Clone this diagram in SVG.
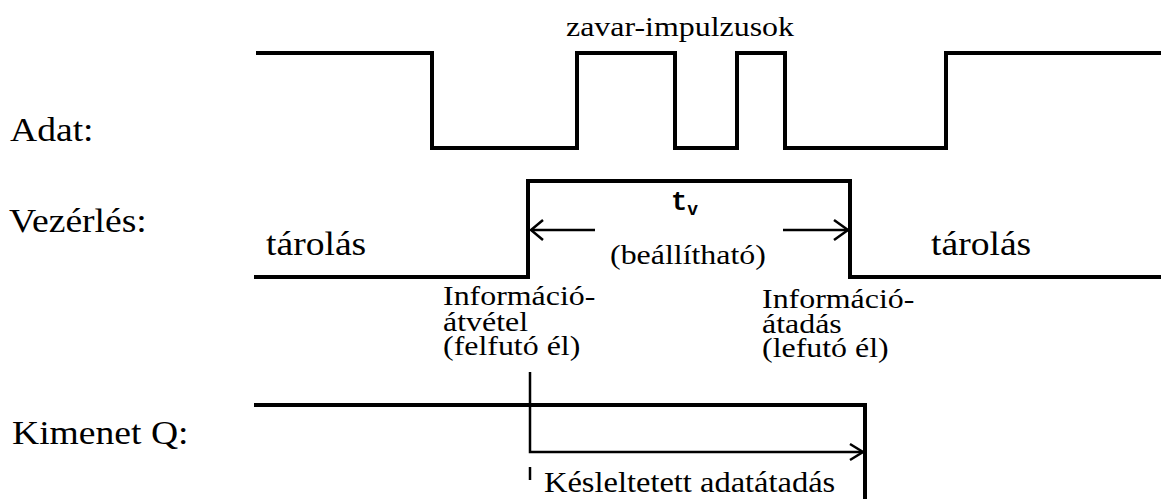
<svg xmlns="http://www.w3.org/2000/svg" width="1161" height="499" viewBox="0 0 1161 499">
<style>
.w{fill:none;stroke:#000;stroke-width:4;stroke-linejoin:miter;stroke-linecap:square}
.a{fill:none;stroke:#000;stroke-width:2.5}
.h{fill:none;stroke:#000;stroke-width:2.5;stroke-linejoin:miter}
.t{font-family:"Liberation Serif","Times New Roman",serif;fill:#000}
.m{font-family:"Liberation Mono","Courier New",monospace;font-weight:bold;fill:#000}
</style>
<rect width="1161" height="499" fill="#fff"/>
<g id="labels">
<text class="t" transform="translate(10,141) scale(1.14,1)" font-size="33">Adat:</text>
<text class="t" transform="translate(9,232) scale(1.14,1)" font-size="33">Vezérlés:</text>
<text class="t" transform="translate(12,444) scale(1.14,1)" font-size="33">Kimenet Q:</text>
</g>
<g id="adat">
<polyline class="w" points="258,53 432,53 432,148 577,148 577,53 675,53 675,148 737,148 737,53 785,53 785,148 946,148 946,53 1161,53"/>
<text class="t" transform="translate(566,36) scale(1.14,1)" font-size="28">zavar-impulzusok</text>
</g>
<g id="vezerles">
<polyline class="w" points="256,277 528,277 528,181 850,181 850,277 1161,277"/>
<text class="t" transform="translate(266,255) scale(1.14,1)" font-size="33">tárolás</text>
<text class="t" transform="translate(931,255) scale(1.14,1)" font-size="33">tárolás</text>
<text class="m" x="671" y="210" font-size="27">t<tspan font-size="18" dy="5">v</tspan></text>
<text class="t" transform="translate(610,264) scale(1.14,1)" font-size="28">(beállítható)</text>
</g>
<g id="atvetel">
<text class="t" transform="translate(443,0) scale(1.14,1)" font-size="28">
<tspan x="0" y="305">Információ-</tspan>
<tspan x="0" y="331">átvétel</tspan>
<tspan x="0" y="355">(felfutó él)</tspan>
</text>
</g>
<g id="atadas">
<text class="t" transform="translate(762,0) scale(1.14,1)" font-size="28">
<tspan x="0" y="308">Információ-</tspan>
<tspan x="0" y="333">átadás</tspan>
<tspan x="0" y="357">(lefutó él)</tspan>
</text>
</g>
<g id="kimenet">
<polyline class="w" points="256,405 865,405 865,499"/>
<text class="t" transform="translate(544,492) scale(1.14,1)" font-size="28.5">Késleltetett adatátadás</text>
</g>
<g id="connectors">
<line class="a" x1="595" y1="230" x2="531" y2="230"/>
<polyline class="h" points="543,220 531,230 543,240"/>
<line class="a" x1="783" y1="230" x2="848" y2="230"/>
<polyline class="h" points="834,220 848,230 834,240"/>
<polyline class="a" stroke-width="1.8" points="530,372 530,452 863,452"/>
<polyline class="h" points="850,444 863,452 850,460"/>
<line class="a" stroke-width="1.5" x1="530" y1="467" x2="530" y2="480"/>
</g>
</svg>
